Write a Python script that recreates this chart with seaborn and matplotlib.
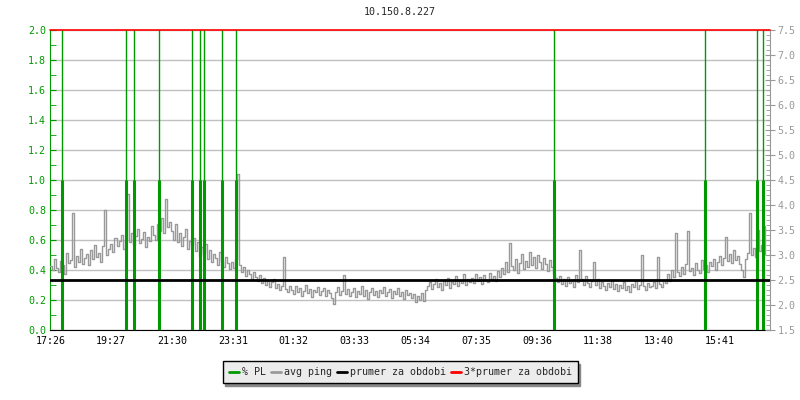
import matplotlib
matplotlib.use("Agg")
import matplotlib.pyplot as plt
from matplotlib.lines import Line2D
import seaborn as sns
import numpy as np

# avg ping [ms], one sample every 4 minutes starting 17:26
avg_ping = [
    2.78, 2.70, 2.92, 2.74, 2.66, 2.88, 2.80, 2.62, 3.05, 2.84, 2.90, 3.84, 2.76, 2.98, 2.86, 3.12, 2.82, 2.94, 3.02, 2.80,
    3.10, 2.92, 3.20, 2.96, 3.04, 2.86, 3.18, 3.90, 3.00, 3.12,
    3.22, 3.06, 3.34, 3.18, 3.28, 3.40, 3.12, 3.30, 4.22, 3.26, 3.44, 3.20, 3.38, 3.52, 3.24, 3.32, 3.46, 3.16, 3.36, 3.28,
    3.58, 3.40, 3.30, 3.62, 3.48, 3.74, 3.44, 4.12, 3.56, 3.66,
    3.48, 3.30, 3.62, 3.26, 3.44, 3.18, 3.36, 3.52, 3.12, 3.28, 3.20, 3.34, 3.08, 3.26, 2.98, 3.16, 3.04, 3.22, 2.92, 3.10,
    2.86, 3.02, 2.94, 2.80, 3.06, 2.88, 2.76, 2.96, 2.84, 2.72,
    2.86, 2.74, 2.92, 4.62, 2.80, 2.66, 2.76, 2.58, 2.70, 2.62, 2.52, 2.66, 2.56, 2.48, 2.60, 2.44, 2.54, 2.40, 2.50, 2.36,
    2.46, 2.52, 2.34, 2.42, 2.30, 2.38, 2.96, 2.32, 2.26, 2.38,
    2.30, 2.22, 2.38, 2.26, 2.34, 2.18, 2.28, 2.40, 2.24, 2.32, 2.16, 2.30, 2.26, 2.36, 2.20, 2.28, 2.34, 2.18, 2.30, 2.24,
    2.14, 2.02, 2.26, 2.36, 2.20, 2.28, 2.60, 2.22, 2.32, 2.18,
    2.26, 2.34, 2.16, 2.28, 2.22, 2.38, 2.18, 2.30, 2.12, 2.26, 2.34, 2.20, 2.28, 2.16, 2.30, 2.24, 2.36, 2.18, 2.26, 2.32,
    2.14, 2.28, 2.22, 2.34, 2.18, 2.26, 2.12, 2.30, 2.20, 2.24,
    2.14, 2.22, 2.06, 2.18, 2.10, 2.24, 2.08, 2.30, 2.38, 2.46, 2.32, 2.42, 2.52, 2.36, 2.44, 2.30, 2.48, 2.40, 2.54, 2.34,
    2.46, 2.42, 2.58, 2.38, 2.50, 2.44, 2.62, 2.40, 2.52, 2.46,
    2.54, 2.44, 2.62, 2.48, 2.56, 2.42, 2.60, 2.50, 2.46, 2.64, 2.52, 2.58, 2.48, 2.68, 2.56, 2.74, 2.62, 2.86, 2.66, 3.24,
    2.78, 2.70, 2.92, 2.64, 2.84, 3.02, 2.72, 2.88, 2.76, 3.06,
    2.80, 2.96, 2.74, 3.00, 2.86, 2.72, 2.94, 2.82, 2.68, 2.90, 2.76, 2.62, 2.54, 2.46, 2.58, 2.42, 2.52, 2.38, 2.56, 2.44,
    2.50, 2.36, 2.60, 2.46, 3.10, 2.52, 2.40, 2.58, 2.44, 2.36,
    2.48, 2.86, 2.40, 2.52, 2.34, 2.46, 2.38, 2.30, 2.44, 2.36, 2.50, 2.32, 2.42, 2.28, 2.40, 2.34, 2.46, 2.30, 2.38, 2.26,
    2.42, 2.36, 2.48, 2.32, 2.40, 3.00, 2.38, 2.30, 2.44, 2.36,
    2.38, 2.46, 2.34, 2.96, 2.42, 2.36, 2.50, 2.44, 2.62, 2.48, 2.70, 2.56, 3.44, 2.66, 2.58, 2.76, 2.62, 2.82, 3.48, 2.68,
    2.74, 2.60, 2.84, 2.70, 2.64, 2.90, 2.72, 2.80, 2.66, 2.86,
    2.78, 2.92, 2.70, 2.86, 2.98, 2.80, 2.94, 3.36, 2.88, 3.02, 2.84, 3.10, 2.90, 2.98, 2.82, 2.70, 2.56, 2.92, 3.04, 3.84,
    3.00, 3.14, 2.96, 3.50, 3.08, 3.20, 3.02, 3.58,
]
sample_step_min = 4

# packet loss events (minutes after 17:26)
pl_minutes = [24, 150, 167, 216, 282, 298, 307, 343, 371, 1005, 1307, 1412, 1423]
pl_values = [1.0] * len(pl_minutes)

prumer = 2.5
tick_labels = ["17:26", "19:27", "21:30", "23:31", "01:32", "03:33",
               "05:34", "07:35", "09:36", "11:38", "13:40", "15:41"]
tick_step_min = 121.5

GREEN = "#009900"
GRAY = "#999999"
GRID = "#c0c0c0"
FS = 7.2

sns.set_style("white")
plt.rcParams["font.family"] = ["DejaVu Sans Mono", "DejaVu Sans"]
plt.rcParams["font.size"] = FS

fig, ax = plt.subplots(figsize=(8, 4), dpi=100)
fig.subplots_adjust(left=0.063, right=0.9625, bottom=0.175, top=0.925)
ax2 = ax.twinx()

x_ping = np.arange(len(avg_ping)) * sample_step_min
sns.lineplot(x=x_ping, y=avg_ping, ax=ax2, color=GRAY, linewidth=1, zorder=2,
             drawstyle="steps-post")

# % PL on the left scale, drawn inside ax2 so it sits above the ping line
ax2.vlines(pl_minutes, 0, 3, colors=GREEN, linewidth=1, transform=ax.transData, zorder=3)
ax2.vlines(pl_minutes, 0, pl_values, colors=GREEN, linewidth=2.2, transform=ax.transData, zorder=3)
ax2.axhline(prumer, color="black", linewidth=2, zorder=4)
ax2.axhline(3 * prumer, color="red", linewidth=1.2, zorder=4, clip_on=False)

xmax = 1437
ax.set_xlim(0, xmax)
ax.set_ylim(0, 2.0)
ax2.set_ylim(1.5, 7.5)

ax.set_xticks(np.arange(len(tick_labels)) * tick_step_min)
ax.set_xticklabels(tick_labels)
ax.set_yticks(np.arange(0, 2.01, 0.2))
ax.set_yticklabels([f"{v:.1f}" for v in np.arange(0, 2.01, 0.2)])
ax.set_yticks(np.arange(0.1, 2.0, 0.2), minor=True)
ax2.set_yticks(np.arange(1.5, 7.51, 0.5))
ax2.set_yticklabels([f"{v:.1f}" for v in np.arange(1.5, 7.51, 0.5)])
ax2.set_yticks(np.arange(1.5, 7.51, 0.1), minor=True)

ax.grid(axis="y", color=GRID, linewidth=1)
ax.grid(axis="x", visible=False)
ax2.grid(False)

ax.tick_params(axis="x", direction="in", length=5, color="black", labelcolor="black", pad=4, labelsize=FS)
ax.tick_params(axis="y", which="major", direction="in", length=4, color=GREEN, labelcolor=GREEN, pad=3, labelsize=FS)
ax.tick_params(axis="y", which="minor", direction="in", length=4, color=GREEN)
ax2.tick_params(axis="y", which="major", direction="inout", length=7, color=GRAY, labelcolor=GRAY, pad=2, labelsize=FS)
ax2.tick_params(axis="y", which="minor", direction="in", length=3, color=GRAY)

for a in (ax, ax2):
    a.spines["top"].set_visible(False)
    a.set_xlabel("")
    a.set_ylabel("")
ax.spines["left"].set_color(GREEN)
ax.spines["bottom"].set_color("black")
ax.spines["right"].set_visible(False)
ax2.spines["left"].set_visible(False)
ax2.spines["bottom"].set_visible(False)
ax2.spines["right"].set_color(GRAY)

fig.text(0.5, 0.97, "10.150.8.227", ha="center", va="center", fontsize=FS)

handles = [Line2D([], [], color=c, linewidth=2) for c in (GREEN, GRAY, "black", "red")]
labels = ["% PL", "avg ping", "prumer za obdobi", "3*prumer za obdobi"]
leg = fig.legend(handles, labels, loc="center", bbox_to_anchor=(0.5, 0.07), ncol=4,
                 frameon=True, fancybox=False, shadow={"color": "#888888", "alpha": 1},
                 framealpha=1, handlelength=1.0, handletextpad=0.3, columnspacing=0.5,
                 borderpad=0.6, fontsize=FS)
leg.get_frame().set_edgecolor("black")
leg.get_frame().set_facecolor("#ececec")
leg.get_frame().set_linewidth(1)

fig.savefig("out.png", dpi=100)
